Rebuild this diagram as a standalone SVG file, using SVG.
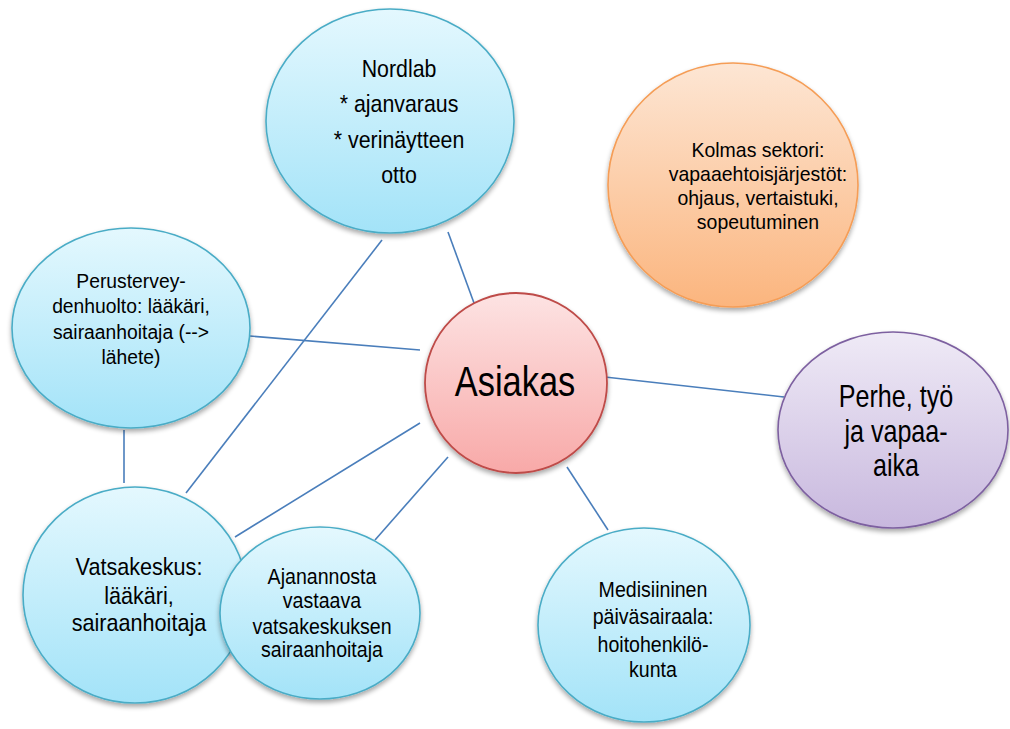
<svg xmlns="http://www.w3.org/2000/svg" width="1010" height="729" viewBox="0 0 1010 729">
  <defs>
    <linearGradient id="gBlue" x1="0" y1="0" x2="0" y2="1">
      <stop offset="0" stop-color="#e4f8fe"/>
      <stop offset="1" stop-color="#a3e3f8"/>
    </linearGradient>
    <linearGradient id="gRed" x1="0" y1="0" x2="0" y2="1">
      <stop offset="0" stop-color="#fde3e3"/>
      <stop offset="1" stop-color="#f8a9a8"/>
    </linearGradient>
    <linearGradient id="gOrange" x1="0" y1="0" x2="0" y2="1">
      <stop offset="0" stop-color="#fde6d4"/>
      <stop offset="1" stop-color="#fbb57e"/>
    </linearGradient>
    <linearGradient id="gPurple" x1="0" y1="0" x2="0" y2="1">
      <stop offset="0" stop-color="#efeaf6"/>
      <stop offset="1" stop-color="#c8b8de"/>
    </linearGradient>
    <filter id="shadow" x="-10%" y="-10%" width="120%" height="125%">
      <feGaussianBlur in="SourceAlpha" stdDeviation="2.5"/>
      <feOffset dy="3" result="b"/>
      <feComponentTransfer><feFuncA type="linear" slope="0.35"/></feComponentTransfer>
      <feMerge><feMergeNode/><feMergeNode in="SourceGraphic"/></feMerge>
    </filter>
  </defs>
  <style>
    .conn line { stroke: #4a7ebb; stroke-width: 1.6; fill: none; }
    .blue { fill: url(#gBlue); stroke: #4aacc6; stroke-width: 1.6; }
    .red { fill: url(#gRed); stroke: #be4b48; stroke-width: 1.8; }
    .orange { fill: url(#gOrange); stroke: #f59d56; stroke-width: 1.6; }
    .purple { fill: url(#gPurple); stroke: #7d60a0; stroke-width: 1.6; }
    .node ellipse { filter: url(#shadow); }
    text { font-family: "Liberation Sans", Arial, sans-serif; fill: #000; text-anchor: middle; }
  </style>

  <rect width="1010" height="729" fill="#ffffff"/>

  <!-- links between the client and the services -->
  <g id="connectors" class="conn">
    <line x1="448" y1="232" x2="474" y2="303"/>
    <line x1="382" y1="240" x2="186" y2="493"/>
    <line x1="250" y1="336" x2="420" y2="350"/>
    <line x1="124" y1="430" x2="124" y2="483"/>
    <line x1="420" y1="423" x2="235" y2="537"/>
    <line x1="448" y1="457" x2="375" y2="540"/>
    <line x1="567" y1="467" x2="608" y2="530"/>
    <line x1="605" y1="377" x2="784" y2="397"/>
  </g>

  <g id="nordlab" class="node">
    <ellipse class="blue" cx="390" cy="121" rx="124" ry="112"/>
    <g transform="translate(399 0) scale(0.89 1)" font-size="24">
      <text x="0" y="77">Nordlab</text>
      <text x="0" y="112">* ajanvaraus</text>
      <text x="0" y="148">* verinäytteen</text>
      <text x="0" y="183">otto</text>
    </g>
  </g>

  <g id="kolmas-sektori" class="node">
    <ellipse class="orange" cx="733" cy="185" rx="125" ry="122"/>
    <g transform="translate(758 0) scale(0.95 1)" font-size="20.5">
      <text x="0" y="157">Kolmas sektori:</text>
      <text x="0" y="181">vapaaehtoisjärjestöt:</text>
      <text x="0" y="205">ohjaus, vertaistuki,</text>
      <text x="0" y="229">sopeutuminen</text>
    </g>
  </g>

  <g id="perusterveydenhuolto" class="node">
    <ellipse class="blue" cx="131" cy="328" rx="119" ry="100"/>
    <g transform="translate(131 0) scale(0.92 1)" font-size="21">
      <text x="0" y="288">Perustervey-</text>
      <text x="0" y="313.5">denhuolto: lääkäri,</text>
      <text x="0" y="339">sairaanhoitaja (--&gt;</text>
      <text x="0" y="364">lähete)</text>
    </g>
  </g>

  <g id="asiakas" class="node">
    <ellipse class="red" cx="516" cy="383" rx="91" ry="90"/>
    <g transform="translate(515 0) scale(0.82 1)" font-size="42">
      <text x="0" y="396">Asiakas</text>
    </g>
  </g>

  <g id="perhe" class="node">
    <ellipse class="purple" cx="893" cy="430" rx="115" ry="98"/>
    <g transform="translate(896 0) scale(0.81 1)" font-size="31">
      <text x="0" y="407">Perhe, työ</text>
      <text x="0" y="442">ja vapaa-</text>
      <text x="0" y="476">aika</text>
    </g>
  </g>

  <g id="vatsakeskus" class="node">
    <ellipse class="blue" cx="135" cy="595" rx="112" ry="108"/>
    <g transform="translate(139 0) scale(0.9 1)" font-size="24">
      <text x="0" y="575">Vatsakeskus:</text>
      <text x="0" y="604">lääkäri,</text>
      <text x="0" y="631">sairaanhoitaja</text>
    </g>
  </g>

  <g id="ajanannosta" class="node">
    <ellipse class="blue" cx="320" cy="613" rx="100" ry="86"/>
    <g transform="translate(322 0) scale(0.89 1)" font-size="22">
      <text x="0" y="584">Ajanannosta</text>
      <text x="0" y="608">vastaava</text>
      <text x="0" y="634">vatsakeskuksen</text>
      <text x="0" y="657">sairaanhoitaja</text>
    </g>
  </g>

  <g id="medisiininen" class="node">
    <ellipse class="blue" cx="644" cy="625" rx="106" ry="97"/>
    <g transform="translate(653 0) scale(0.89 1)" font-size="22">
      <text x="0" y="597">Medisiininen</text>
      <text x="0" y="624">päiväsairaala:</text>
      <text x="0" y="652">hoitohenkilö-</text>
      <text x="0" y="677">kunta</text>
    </g>
  </g>
</svg>
